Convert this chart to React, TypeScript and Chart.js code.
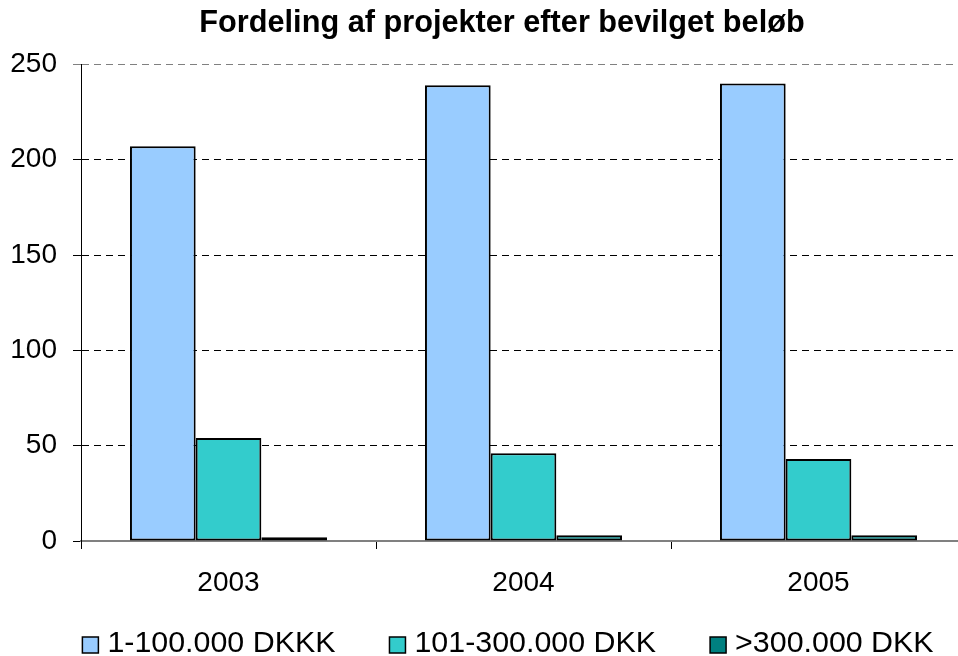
import React, { useEffect, useRef } from "react";
import { Chart, registerables } from "chart.js";

Chart.register(...registerables);

const categories = ["2003", "2004", "2005"];
const seriesNames = ["1-100.000 DKKK", "101-300.000 DKK", ">300.000 DKK"];
const small = [207, 239, 240];
const medium = [54, 46, 43];
const large = [2, 3, 3];
const yTicks = [0, 50, 100, 150, 200, 250];
const colors = ["#99CCFF", "#33CCCC", "#008080"];

const FONT = "Arial, 'Liberation Sans', sans-serif";

// Center the title on the full canvas width (as in the original picture)
const titleCenter = {
  id: "titleCenter",
  afterLayout(chart: any) {
    if (chart.titleBlock) {
      chart.titleBlock.left = 0;
      chart.titleBlock.right = chart.width;
    }
  },
};

// Legend drawn on the canvas in Excel style (small square, wide spacing)
const excelLegend = {
  id: "excelLegend",
  afterDraw(chart: any) {
    const ctx = chart.ctx;
    const ds = chart.data.datasets;
    const fontSize = 30.4;
    const box = 16;
    const gapBoxText = 9;
    const gapItems = 54;
    const centerX = 508;
    const centerY = 644;
    ctx.save();
    ctx.font = `${fontSize}px ${FONT}`;
    ctx.textBaseline = "middle";
    ctx.textAlign = "left";
    const widths = ds.map((d: any) => box + gapBoxText + ctx.measureText(d.label).width);
    const total = widths.reduce((a: number, b: number) => a + b, 0) + gapItems * (ds.length - 1);
    let x = centerX - total / 2;
    ds.forEach((d: any, i: number) => {
      ctx.fillStyle = d.backgroundColor;
      ctx.fillRect(x, centerY - box / 2 + 1, box, box);
      ctx.lineWidth = 1.5;
      ctx.strokeStyle = "#000000";
      ctx.strokeRect(x, centerY - box / 2 + 1, box, box);
      ctx.fillStyle = "#000000";
      ctx.fillText(d.label, x + box + gapBoxText, centerY);
      x += widths[i] + gapItems;
    });
    ctx.restore();
  },
};

export default function App() {
  const ref = useRef<HTMLCanvasElement | null>(null);
  useEffect(() => {
    if (!ref.current) return;
    const chart = new Chart(ref.current, {
      type: "bar",
      data: {
        labels: categories,
        datasets: [small, medium, large].map((d, i) => ({
          label: seriesNames[i],
          data: d,
          backgroundColor: colors[i],
          borderColor: "#000000",
          borderWidth: 2,
          borderSkipped: false,
          categoryPercentage: 0.668,
          barPercentage: 1,
        })),
      },
      plugins: [titleCenter, excelLegend],
      options: {
        responsive: false,
        animation: false,
        layout: { padding: { left: 10, right: 38, top: 0, bottom: 56 } },
        plugins: {
          title: {
            display: true,
            text: "Fordeling af projekter efter bevilget beløb",
            font: { family: FONT, size: 30.7, weight: "bold" },
            color: "#000000",
            padding: { top: 5, bottom: 22.5 },
          },
          legend: { display: false },
          tooltip: { enabled: false },
        },
        scales: {
          x: {
            offset: true,
            afterFit: (s: any) => {
              s.height = 59;
            },
            grid: {
              offset: true,
              drawOnChartArea: false,
              drawTicks: true,
              tickLength: 8,
              tickColor: "#000000",
              tickWidth: 1,
            },
            border: { color: "#808080", width: 2 },
            ticks: {
              font: { family: FONT, size: 28 },
              color: "#000000",
              padding: 17,
            },
          },
          y: {
            min: 0,
            max: 250,
            afterFit: (s: any) => {
              s.width = 71;
            },
            afterBuildTicks: (s: any) => {
              s.ticks = yTicks.map((v) => ({ value: v }));
            },
            grid: {
              color: (ctx: any) =>
                ctx.tick && ctx.tick.value === 250
                  ? "#808080"
                  : ctx.tick && ctx.tick.value === 0
                  ? "rgba(0,0,0,0)"
                  : "#000000",
              tickBorderDash: [],
              tickColor: (ctx: any) =>
                ctx.tick && ctx.tick.value === 250 ? "#808080" : "#000000",
              tickLength: 8,
              lineWidth: 1,
            },
            border: { color: "#000000", width: 1, dash: [7, 5] },
            ticks: {
              font: { family: FONT, size: 28 },
              color: "#000000",
              padding: 16,
            },
          },
        },
      },
    });
    return () => chart.destroy();
  }, []);
  return (
    <div style={{ position: "fixed", left: 0, top: 0, width: 958, height: 656, overflow: "hidden", background: "#fff" }}>
      <canvas ref={ref} width={1004} height={656} style={{ display: "block" }} />
    </div>
  );
}
